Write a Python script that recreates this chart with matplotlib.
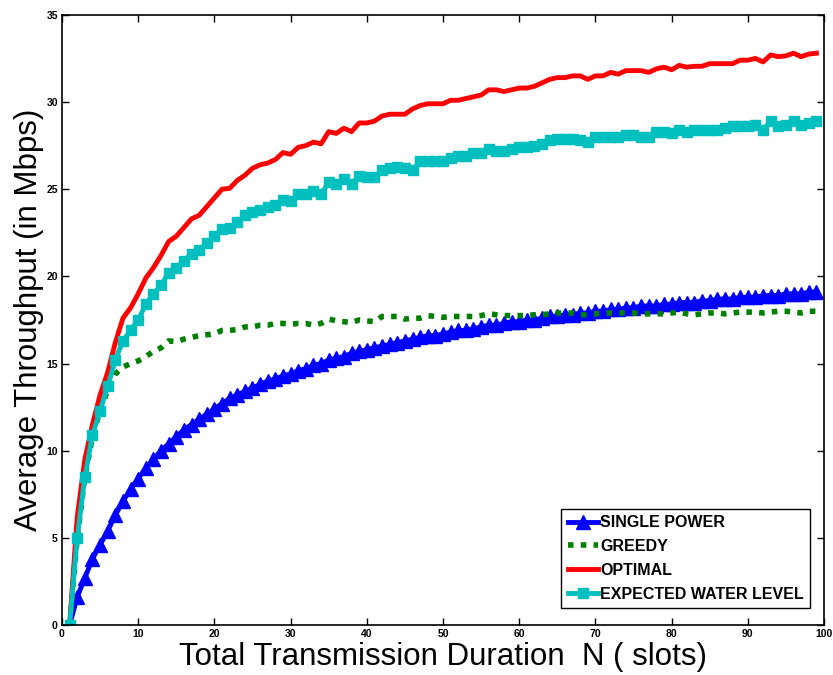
import numpy as np
import matplotlib
matplotlib.use("Agg")
import matplotlib.pyplot as plt

plt.rcParams['font.family'] = ['Liberation Sans', 'DejaVu Sans']

# slots N = 1..99
n_slots = list(range(1, 100))

single_power = [0.0, 1.6, 2.7, 3.8, 4.6, 5.4, 6.3, 7.1, 7.8, 8.4,
                9.0, 9.5, 10.0, 10.4, 10.8, 11.2, 11.5, 11.8, 12.1, 12.4,
                12.7, 13.0, 13.2, 13.4, 13.6, 13.8, 14.0, 14.1, 14.3, 14.4,
                14.6, 14.7, 14.9, 15.0, 15.2, 15.3, 15.4, 15.6, 15.7, 15.8,
                15.9, 16.0, 16.1, 16.2, 16.3, 16.4, 16.5, 16.6, 16.6, 16.7,
                16.8, 16.9, 16.9, 17.0, 17.1, 17.2, 17.2, 17.3, 17.4, 17.4,
                17.5, 17.5, 17.6, 17.7, 17.7, 17.8, 17.8, 17.9, 17.9, 18.0,
                18.0, 18.1, 18.1, 18.2, 18.2, 18.3, 18.3, 18.3, 18.4, 18.4,
                18.5, 18.5, 18.5, 18.6, 18.6, 18.7, 18.7, 18.7, 18.8, 18.8,
                18.8, 18.9, 18.9, 18.9, 19.0, 19.0, 19.0, 19.1, 19.1]

greedy = [0.0, 5.0, 8.5, 10.8, 12.3, 13.5, 14.4, 14.8, 15.0, 15.15,
          15.4, 15.7, 15.9, 16.3, 16.25, 16.4, 16.5, 16.6, 16.65, 16.7,
          16.9, 16.9, 16.95, 17.1, 17.1, 17.2, 17.2, 17.3, 17.3, 17.25,
          17.3, 17.3, 17.2, 17.3, 17.55, 17.45, 17.4, 17.35, 17.5, 17.45,
          17.4, 17.7, 17.7, 17.7, 17.55, 17.6, 17.6, 17.75, 17.7, 17.65,
          17.7, 17.7, 17.7, 17.7, 17.75, 17.85, 17.8, 17.75, 17.75, 17.75,
          17.75, 17.8, 17.8, 17.85, 17.9, 17.9, 17.9, 17.8, 17.8, 17.85,
          17.9, 17.9, 17.9, 17.9, 17.9, 17.85, 17.85, 17.85, 17.85, 17.9,
          17.95, 17.85, 17.8, 17.85, 17.9, 17.9, 17.85, 17.9, 17.95, 17.95,
          17.95, 17.9, 17.95, 18.0, 18.0, 17.95, 17.9, 18.0, 18.0]

optimal = [0.0, 6.2, 9.5, 11.5, 13.2, 14.5, 16.2, 17.6, 18.2, 19.0,
           19.9, 20.5, 21.2, 22.0, 22.3, 22.8, 23.3, 23.5, 24.0, 24.5,
           25.0, 25.05, 25.5, 25.8, 26.2, 26.4, 26.5, 26.7, 27.1, 27.0,
           27.4, 27.5, 27.7, 27.6, 28.3, 28.2, 28.5, 28.3, 28.8, 28.8,
           28.9, 29.2, 29.3, 29.3, 29.3, 29.6, 29.8, 29.9, 29.9, 29.9,
           30.1, 30.1, 30.2, 30.3, 30.4, 30.7, 30.7, 30.6, 30.7, 30.8,
           30.8, 30.9, 31.1, 31.3, 31.4, 31.4, 31.5, 31.5, 31.3, 31.5,
           31.5, 31.7, 31.6, 31.8, 31.8, 31.8, 31.7, 31.9, 32.0, 31.85,
           32.1, 32.0, 32.05, 32.05, 32.2, 32.2, 32.2, 32.2, 32.4, 32.4,
           32.5, 32.3, 32.7, 32.6, 32.65, 32.8, 32.6, 32.75, 32.8]

expected_water = [0.0, 5.0, 8.5, 10.9, 12.3, 13.7, 15.2, 16.3, 16.9, 17.5,
                  18.4, 19.0, 19.5, 20.2, 20.5, 20.9, 21.3, 21.5, 21.9, 22.3,
                  22.7, 22.8, 23.1, 23.5, 23.7, 23.8, 24.0, 24.1, 24.4, 24.3,
                  24.7, 24.7, 24.9, 24.7, 25.4, 25.3, 25.6, 25.3, 25.75, 25.7,
                  25.7, 26.1, 26.2, 26.3, 26.2, 26.1, 26.6, 26.6, 26.6, 26.6,
                  26.8, 26.9, 26.9, 27.05, 27.1, 27.3, 27.2, 27.2, 27.3, 27.4,
                  27.4, 27.5, 27.6, 27.8, 27.9, 27.9, 27.9, 27.8, 27.7, 28.0,
                  28.0, 28.0, 28.0, 28.1, 28.1, 28.0, 28.0, 28.3, 28.3, 28.2,
                  28.4, 28.3, 28.4, 28.4, 28.4, 28.4, 28.5, 28.6, 28.6, 28.6,
                  28.7, 28.4, 28.9, 28.6, 28.7, 28.9, 28.7, 28.8, 28.9]

fig = plt.figure(figsize=(8.33, 6.75), dpi=100)
ax = fig.add_axes([0.0744, 0.074, 0.9148, 0.904])

ax.plot(n_slots, single_power, color='blue', linewidth=3.5, marker='^',
        markersize=9.5, label='SINGLE POWER')
ax.plot(n_slots, greedy, color='green', linewidth=4, linestyle=(0, (1, 1.3)),
        label='GREEDY')
ax.plot(n_slots, optimal, color='red', linewidth=3.5, label='OPTIMAL')
ax.plot(n_slots, expected_water, color='#00bfbf', linewidth=3.5, marker='s',
        markersize=7.5, label='EXPECTED WATER LEVEL')

ax.set_xlim(0, 100)
ax.set_ylim(0, 35)
ax.set_xticks(range(0, 101, 10))
ax.set_yticks(range(0, 36, 5))
ax.tick_params(direction='in', top=True, right=True, length=5, width=1,
               labelsize=7.5, pad=3)
for lab in ax.get_xticklabels() + ax.get_yticklabels():
    lab.set_fontweight('bold')
for sp in ax.spines.values():
    sp.set_linewidth(1.2)

ax.set_xlabel('Total Transmission Duration  N ( slots)', fontsize=22.5, labelpad=2)
ax.set_ylabel('Average Throughput (in Mbps)', fontsize=22.5, labelpad=2)

leg = ax.legend(loc='lower right', bbox_to_anchor=(0.982, 0.028),
                prop={'weight': 'bold', 'size': 11.5}, fancybox=False,
                framealpha=1, edgecolor='black', handlelength=1.9,
                borderpad=0.4, labelspacing=0.55, handletextpad=0.15,
                borderaxespad=0)
leg.get_frame().set_linewidth(1)

fig.savefig('out.png', dpi=100)
